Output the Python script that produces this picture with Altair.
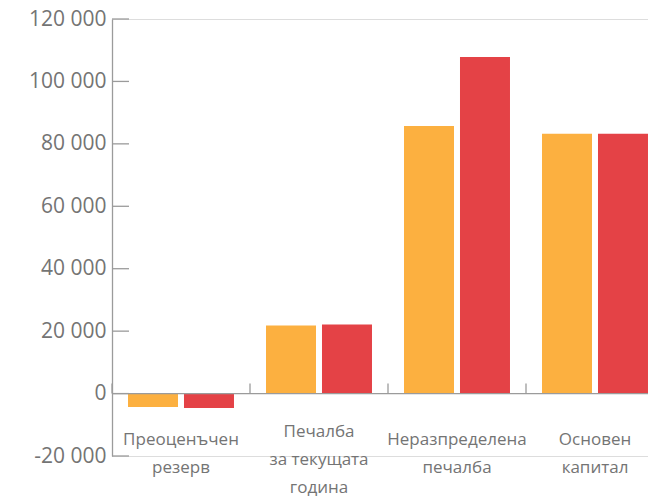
import altair as alt
import pandas as pd

categories = ["Преоценъчен резерв", "Печалба за текущата година",
              "Неразпределена печалба", "Основен капитал"]
labels = ["Преоценъчен\nрезерв", "Печалба\nза текущата\nгодина",
          "Неразпределена\nпечалба", "Основен\nкапитал"]
series = ["Предходна година", "Текуща година"]
prev_values = [-4300, 21800, 85700, 83200]
curr_values = [-4600, 22100, 107800, 83200]
y_tick_values = [-20000, 0, 20000, 40000, 60000, 80000, 100000, 120000]
colors = ["#FCB040", "#E44246"]

rows = []
for c, v1, v2 in zip(categories, prev_values, curr_values):
    rows.append({"category": c, "series": series[0], "value": v1})
    rows.append({"category": c, "series": series[1], "value": v2})
bars_df = pd.DataFrame(rows)
cat_df = pd.DataFrame({"category": categories, "label": labels})
ticks_df = pd.DataFrame({"v": y_tick_values})

FONT = "Open Sans"
GRAY_LINE = "#9b9b9b"
TEXT = "#747474"

xscale = alt.Scale(domain=categories, range=[0, 552], paddingInner=0, paddingOuter=0)
yscale = alt.Scale(domain=[-20000, 120000], nice=False, zero=False)

bars = alt.Chart(bars_df).mark_bar().encode(
    x=alt.X("category:N", sort=categories, scale=xscale, axis=None),
    xOffset=alt.XOffset("series:N", sort=series,
                        scale=alt.Scale(paddingInner=0.107, paddingOuter=0.286)),
    y=alt.Y("value:Q", scale=yscale, title=None,
            axis=alt.Axis(values=y_tick_values, grid=False, ticks=False, tickSize=0,
                          domainColor=GRAY_LINE, domainWidth=1.3,
                          labelFont=FONT, labelFontSize=21, labelColor=TEXT,
                          labelPadding=6,
                          labelExpr="replace(replace(format(datum.value, ','), regexp(',', 'g'), ' '), '\u2212', '-')")),
    color=alt.Color("series:N", sort=series,
                    scale=alt.Scale(domain=series, range=colors), legend=None),
)

zero_line = alt.Chart(pd.DataFrame({"z": [0]})).mark_rule(
    color=GRAY_LINE, strokeWidth=1.3).encode(
    y=alt.Y("z:Q", scale=yscale),
)

y_ticks = alt.Chart(ticks_df).mark_rule(color=GRAY_LINE, strokeWidth=1.3).encode(
    y=alt.Y("v:Q", scale=yscale),
    x=alt.value(0),
    x2=alt.value(17),
)

x_ticks = alt.Chart(cat_df).mark_rule(color=GRAY_LINE, strokeWidth=1.3).encode(
    x=alt.X("category:N", sort=categories, scale=xscale, axis=None, bandPosition=0),
    y=alt.Y("a:Q", scale=yscale),
    y2="b:Q",
).transform_calculate(a="0", b="3200")


def label_layer(filter_expr, ypix):
    return alt.Chart(cat_df).mark_text(
        font=FONT, fontSize=17, color=TEXT, lineBreak="\n", lineHeight=28,
        align="center", baseline="middle").encode(
        x=alt.X("category:N", sort=categories, scale=xscale, axis=None),
        y=alt.value(ypix),
        text="label:N",
    ).transform_calculate(
        nlines="length(split(datum.label, '\\n'))"
    ).transform_filter(filter_expr)


labels_short = label_layer("datum.nlines < 3", 421)
labels_long = label_layer("datum.nlines >= 3", 413)

chart = alt.layer(bars, zero_line, y_ticks, x_ticks, labels_short, labels_long).properties(
    width=536, height=437,
    padding={"left": 112, "top": 19, "right": 0, "bottom": 41},
    autosize=alt.AutoSizeParams(type="none"),
).configure_view(stroke=None).configure(background="white")

chart.save("out.html", embed_options={"renderer": "svg", "actions": False})
